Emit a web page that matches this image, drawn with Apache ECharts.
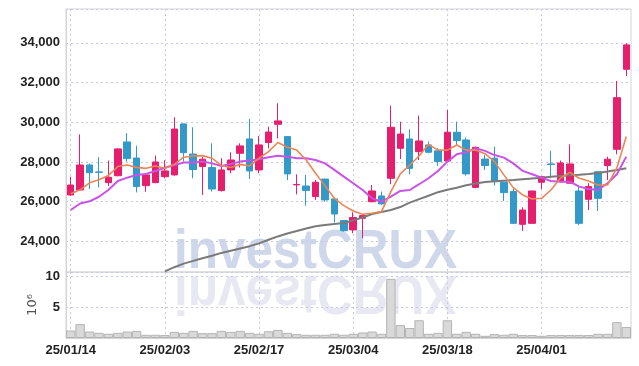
<!DOCTYPE html>
<html><head><meta charset="utf-8">
<script src="https://cdn.jsdelivr.net/npm/echarts@6/dist/echarts.min.js"></script>
<style>html,body{margin:0;padding:0;background:#fff}#c{width:639px;height:366px}</style>
</head><body><div id="c"></div>
<script>
const dates = ['25/01/14','25/01/15','25/01/16','25/01/17','25/01/20','25/01/21','25/01/22','25/01/23','25/01/24','25/01/31',
'25/02/03','25/02/04','25/02/05','25/02/06','25/02/07','25/02/10','25/02/11','25/02/12','25/02/13','25/02/14',
'25/02/17','25/02/18','25/02/19','25/02/20','25/02/21','25/02/24','25/02/25','25/02/26','25/02/27','25/02/28',
'25/03/04','25/03/05','25/03/06','25/03/07','25/03/10','25/03/11','25/03/12','25/03/13','25/03/14','25/03/17',
'25/03/18','25/03/19','25/03/20','25/03/21','25/03/24','25/03/25','25/03/26','25/03/27','25/03/28','25/03/31',
'25/04/01','25/04/02','25/04/03','25/04/04','25/04/07','25/04/08','25/04/09','25/04/10','25/04/11','25/04/14'];

const openP  = [26340,26590,27850,27500,26960,27310,29010,28200,26810,26960,
27260,27350,29920,28400,27770,27720,26560,27600,28440,29160,
27600,28980,29900,29280,26850,26790,26260,27140,26140,25050,
24580,25160,26000,26290,27180,28690,29160,28520,28860,28560,
28050,29500,29110,26720,28150,28190,26980,26510,24860,24910,
26980,27900,27040,26930,26540,26120,27510,27820,28640,32670];
const closeP = [26840,27850,27460,27480,27230,28660,28170,26760,27350,28000,
27550,29660,28470,27620,28140,26640,27600,28100,28810,27550,
28860,29510,30070,27400,26870,26560,26980,26090,25380,24540,
25200,25300,26540,25890,29750,29410,27680,29060,28490,28020,
29500,29080,27400,28740,27820,27010,26460,24910,25580,26540,
27260,27880,27950,27900,24910,26760,26170,28140,31240,33900];
const lowP   = [26300,26560,26640,26720,26790,27280,28020,26470,26500,26930,
27180,27310,28020,27180,26340,26510,26510,27430,27720,27140,
27430,28690,29190,27090,26370,25800,26090,26000,24950,24490,
24410,24160,25970,25840,26880,28150,27380,28100,28440,27800,
28020,28860,27310,26680,27600,26810,26040,24880,24530,24880,
26640,27180,26980,26930,24830,25580,25530,27090,28390,32330];
const highP  = [27260,29390,27930,28240,28070,28690,29450,28820,27430,28320,
28090,30250,29930,29750,28250,28940,28190,28490,28940,30170,
29310,29780,30960,29310,27380,27350,27090,27160,26140,25050,
25470,25330,26840,26510,30840,30030,29650,30340,29030,28690,
30620,30030,29230,28770,28350,28770,26980,26710,25720,26540,
27260,28570,28070,28890,26760,26930,27510,28270,32080,33980];

const volume = [1.20,2.24,1.04,0.83,0.68,0.83,1.04,1.15,0.52,0.52,
0.47,0.99,0.83,1.15,0.78,0.78,1.15,0.99,1.15,0.83,
0.68,1.09,1.30,0.83,0.63,0.52,0.52,0.52,0.68,0.52,
0.68,0.89,1.04,0.68,9.55,2.08,1.61,2.86,0.68,0.83,
2.86,0.68,0.99,0.68,0.36,0.63,0.52,0.68,0.47,0.47,
0.36,0.47,0.47,0.47,0.47,0.47,0.68,0.68,2.55,1.77];

const maShort = [26400,26600,26950,27110,27320,27770,27850,27730,27680,27800,
27680,27880,28240,28300,28320,28190,27820,27720,27880,27800,
28190,28520,28980,28740,28600,28100,27430,26810,26170,25800,
25530,25370,25420,25500,26510,27400,27850,28300,28890,28600,
28600,28860,28600,28600,28420,28020,27350,26710,26340,26140,
26170,26590,27180,27480,27180,27040,26840,26840,27700,29280];
const maMid = [25580,25910,26020,26250,26590,27040,27210,27350,27400,27550,
27710,27850,27970,27970,28020,27930,27800,27900,28020,28070,
28140,28240,28320,28270,28190,28190,28100,27930,27600,27260,
26930,26590,26170,26000,26260,26540,26590,26880,27180,27550,
28020,28390,28490,28690,28560,28350,28220,27930,27550,27380,
27210,27040,27010,27010,26760,26640,26590,26930,27380,28270];
const maLong = [null,null,null,null,null,null,null,null,null,null,
22490,22700,22880,23020,23150,23280,23420,23530,23640,23760,
23900,24080,24250,24400,24520,24650,24760,24830,24880,24930,
25060,25200,25380,25480,25580,25730,25950,26130,26300,26480,
26600,26700,26830,26920,26990,27030,27060,27090,27130,27170,
27210,27260,27300,27330,27360,27400,27450,27520,27600,27690];

const priceTicks = [24000,26000,28000,30000,32000,34000];
const volumeTicks = [5,10];

const FONT = '"Liberation Sans", Arial, sans-serif';
const RED = '#e61e6e', BLUE = '#3399c9';
const GRID_LINE = {color:'#c6cadc', type:[2,3], width:1};
const labelIdx = (i) => i % 10 === 0;
const LABEL = {color:'#222', fontFamily:FONT, fontSize:13, fontWeight:'bold'};

const candles = dates.map((d,i)=>[openP[i],closeP[i],lowP[i],highP[i]]);

const chart = echarts.init(document.getElementById('c'), null, {renderer:'canvas'});
chart.setOption({
  animation:false,
  backgroundColor:'#fff',
  grid:[
    {left:66, right:8, top:9, height:263, show:true, borderColor:'#d4d4d4', borderWidth:1, backgroundColor:'transparent', outerBoundsMode:'none'},
    {left:66, right:8, top:272, height:66, show:true, borderColor:'#d4d4d4', borderWidth:1, backgroundColor:'transparent', outerBoundsMode:'none'}
  ],
  xAxis:[
    {type:'category', gridIndex:0, data:dates, boundaryGap:true,
     axisLine:{show:false}, axisTick:{show:false}, axisLabel:{show:false},
     splitLine:{show:true, interval:labelIdx, alignWithLabel:true, lineStyle:GRID_LINE}},
    {type:'category', gridIndex:1, data:dates, boundaryGap:true,
     axisLine:{show:true, lineStyle:{color:'#d4d4d4'}}, axisTick:{show:false},
     axisLabel:Object.assign({interval:labelIdx, margin:6}, LABEL),
     splitLine:{show:true, interval:labelIdx, alignWithLabel:true, lineStyle:GRID_LINE}}
  ],
  yAxis:[
    {type:'value', gridIndex:0, min:22458, max:35708, splitNumber:6, scale:true,
     axisLine:{show:true, lineStyle:{color:'#d4d4d4'}}, axisTick:{show:false},
     axisLabel:Object.assign({margin:6, showMinLabel:false, showMaxLabel:false,
       formatter:(v)=> priceTicks.indexOf(v) >= 0 ? v.toLocaleString('en-US') : ''}, LABEL),
     splitLine:{show:true, lineStyle:GRID_LINE}},
    {type:'value', gridIndex:1, min:0, max:10.65, splitNumber:2,
     name:'10\u2076', nameLocation:'middle', nameGap:27, nameRotate:90, nameMoveOverlap:false,
     nameTextStyle:{color:'#555', fontFamily:'"DejaVu Sans",sans-serif', fontSize:13},
     axisLine:{show:true, lineStyle:{color:'#d4d4d4'}}, axisTick:{show:false},
     axisLabel:Object.assign({margin:6, showMinLabel:false, showMaxLabel:false,
       formatter:(v)=> volumeTicks.indexOf(v) >= 0 ? String(v) : ''}, LABEL),
     splitLine:{show:true, lineStyle:GRID_LINE}}
  ],
  graphic:[
    {type:'text', x:174, y:253, scaleX:0.9, silent:true, z:-1,
     style:{text:'investCRUX', font:'bold 55px "Liberation Sans", Arial, sans-serif', fill:'rgba(160,175,215,0.5)', align:'left', verticalAlign:'middle'}},
    {type:'text', x:174, y:291, scaleX:0.9, scaleY:-1, silent:true, z:-1,
     style:{text:'investCRUX', font:'bold 55px "Liberation Sans", Arial, sans-serif', fill:'rgba(195,195,220,0.38)', align:'left', verticalAlign:'middle'}}
  ],
  series:[
    {type:'candlestick', xAxisIndex:0, yAxisIndex:0, data:candles, barWidth:7,
     itemStyle:{color:RED, color0:BLUE, borderColor:RED, borderColor0:BLUE, borderColorDoji:RED, borderWidth:1}},
    {type:'line', xAxisIndex:0, yAxisIndex:0, data:maLong, showSymbol:false, symbol:'none',
     lineStyle:{color:'#7a7a7a', width:2}, z:3},
    {type:'line', xAxisIndex:0, yAxisIndex:0, data:maMid, showSymbol:false, symbol:'none',
     lineStyle:{color:'#c853e6', width:2}, z:3},
    {type:'line', xAxisIndex:0, yAxisIndex:0, data:maShort, showSymbol:false, symbol:'none',
     lineStyle:{color:'#ef8455', width:1.6}, z:3},
    {type:'bar', xAxisIndex:1, yAxisIndex:1, data:volume, barCategoryGap:'0%',
     itemStyle:{color:'#d9d9d9', borderColor:'#b4b4b4', borderWidth:1}}
  ]
});
</script></body></html>
